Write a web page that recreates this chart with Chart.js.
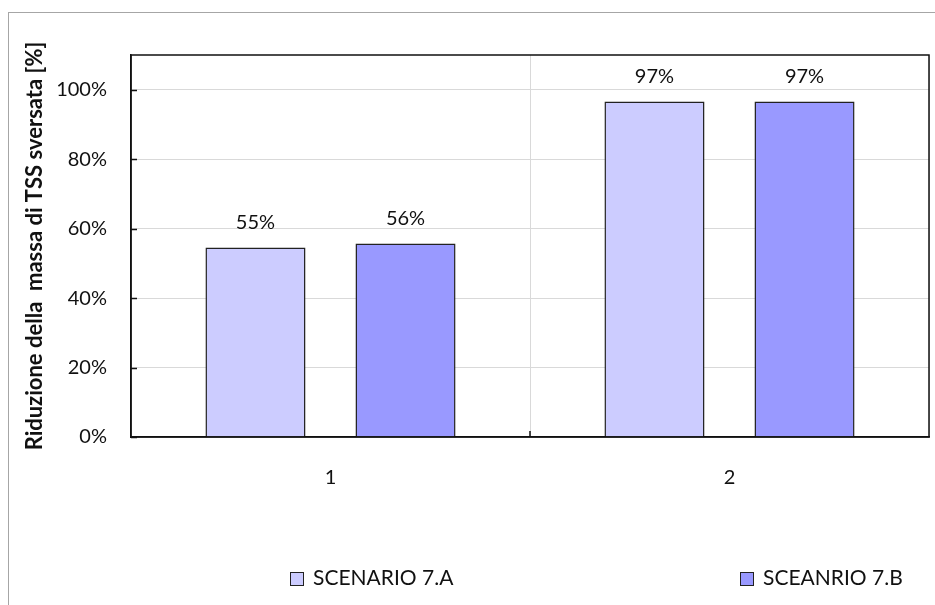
<!DOCTYPE html>
<html>
<head>
<meta charset="utf-8">
<script src="https://cdn.jsdelivr.net/npm/chart.js@4/dist/chart.umd.min.js"></script>
<style>
  body { margin: 0; background: #fff; }
  #wrap { position: relative; width: 935px; height: 605px; overflow: hidden; }
  #frame { position: absolute; left: 8px; top: 12px; width: 960px; height: 640px;
           border-left: 1px solid #a6a6a6; border-top: 1px solid #a6a6a6; }
  #legend { position: absolute; top: 565px; left: 0; width: 935px; height: 24px;
            font-family: Lato, sans-serif; font-size: 21px; color: #111; }
  #legend .item { position: absolute; top: 0; line-height: 24px; white-space: nowrap; }
  #legend .box { display: inline-block; width: 12px; height: 12px; border: 1px solid #222;
                 margin-right: 9px; vertical-align: -1px; }
</style>
</head>
<body>
<div id="wrap">
  <div id="frame"></div>
  <canvas id="bar_chart" width="935" height="605"></canvas>
  <div id="legend"></div>
</div>
<script>
var categories = ['1', '2'];
var serie_labels = ['SCENARIO 7.A', 'SCEANRIO 7.B'];
var scenario_a = [54.6, 96.6];
var scenario_b = [55.7, 96.6];
var y_ticks = [0, 20, 40, 60, 80, 100];
var colori = ['#CCCCFF', '#9999FF'];
var legend_x = [290, 740];

var font_base = 'Lato, sans-serif';

// percentuali sopra le barre
var etichette = {
    id: 'etichette',
    afterDatasetsDraw: function(chart){
        var ctx = chart.ctx;
        ctx.save();
        ctx.font = '20px ' + font_base;
        ctx.fillStyle = '#111';
        ctx.textAlign = 'center';
        ctx.textBaseline = 'middle';
        chart.data.datasets.forEach(function(ds, i){
            chart.getDatasetMeta(i).data.forEach(function(bar, j){
                ctx.fillText(Math.round(ds.data[j]) + '%', bar.x, bar.y - 25);
            });
        });
        ctx.restore();
    }
};

// bordo dell'area grafico e tacche interne
var cornice = {
    id: 'cornice',
    afterDraw: function(chart){
        var a = chart.chartArea, ctx = chart.ctx;
        var y = chart.scales.y, x = chart.scales.x;
        ctx.save();
        ctx.strokeStyle = '#111';
        ctx.lineWidth = 1.5;
        ctx.strokeRect(a.left, a.top, a.right - a.left, a.bottom - a.top);
        ctx.beginPath();
        y_ticks.forEach(function(v){
            var py = Math.round(y.getPixelForValue(v)) + 0.5;
            ctx.moveTo(a.left, py);
            ctx.lineTo(a.left + 6, py);
        });
        for (var k = 1; k < categories.length; k++){
            var px = (x.getPixelForValue(k - 1) + x.getPixelForValue(k)) / 2;
            ctx.moveTo(px, a.bottom);
            ctx.lineTo(px, a.bottom - 6);
        }
        ctx.stroke();
        ctx.restore();
    }
};

var chart_data = {
    labels: categories,
    datasets: [
        {
            label: serie_labels[0],
            backgroundColor: colori[0],
            borderColor: '#222',
            borderWidth: 1.5,
            data: scenario_a
        },
        {
            label: serie_labels[1],
            backgroundColor: colori[1],
            borderColor: '#222',
            borderWidth: 1.5,
            data: scenario_b
        }
    ]
};

var sale_chart = new Chart(document.getElementById('bar_chart'), {
    type: 'bar',
    data: chart_data,
    options: {
        responsive: false,
        animation: false,
        layout: { padding: { top: 55, right: 6, left: 0, bottom: 0 } },
        datasets: { bar: { categoryPercentage: 0.752, barPercentage: 0.667 } },
        plugins: { legend: { display: false }, tooltip: { enabled: false } },
        scales: {
            x: {
                grid: { color: '#d9d9d9', drawTicks: false, offset: true },
                border: { color: '#111', width: 1.5 },
                ticks: { padding: 29, color: '#111', font: { family: font_base, size: 20 } },
                afterFit: function(s){ s.height = 168; }
            },
            y: {
                min: 0,
                max: 110,
                grid: { color: '#d9d9d9', drawTicks: false },
                border: { color: '#111', width: 1.5 },
                ticks: {
                    stepSize: 20,
                    padding: 24,
                    color: '#111',
                    font: { family: font_base, size: 20 },
                    callback: function(v){ return v + '%'; }
                },
                afterBuildTicks: function(s){
                    s.ticks = y_ticks.map(function(v){ return { value: v }; });
                },
                afterFit: function(s){ s.width = 131; },
                title: {
                    display: true,
                    text: 'Riduzione della  massa di TSS sversata [%]',
                    color: '#111',
                    padding: { top: 22, bottom: 0 },
                    font: { family: font_base, size: 22, weight: 'bold' }
                }
            }
        }
    },
    plugins: [etichette, cornice]
});

// legenda costruita dai dataset
var leg = document.getElementById('legend');
sale_chart.data.datasets.forEach(function(ds, i){
    var it = document.createElement('span');
    it.className = 'item';
    it.style.left = legend_x[i] + 'px';
    it.innerHTML = '<span class="box" style="background:' + ds.backgroundColor + '"></span>' + ds.label;
    leg.appendChild(it);
});
</script>
</body>
</html>
